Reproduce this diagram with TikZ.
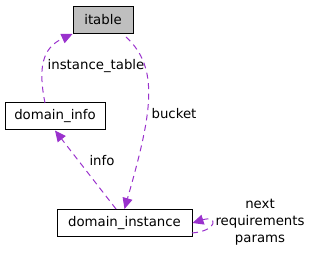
\documentclass[tikz,border=0pt]{standalone}
\usepackage{fontspec}
\setmainfont{DejaVu Sans}
\usetikzlibrary{arrows.meta}
\definecolor{edgec}{HTML}{9A32CD}
\definecolor{boxgray}{HTML}{BFBFBF}
\begin{document}
\begin{tikzpicture}[x=1pt,y=1pt,
  box/.style={draw=black,line width=1pt,minimum height=27pt,inner sep=0pt,font=\fontsize{13.3}{17}\selectfont},
  rel/.style={draw=edgec,dashed,dash pattern=on 6pt off 4.5pt,line width=1pt,-{Triangle[length=11pt,width=10pt,fill=edgec]}},
  lab/.style={font=\fontsize{13.3}{17}\selectfont,inner sep=0pt}]
\useasboundingbox (0,0) rectangle (311,253);
\node[box,fill=boxgray,minimum width=60pt] (itable) at (103,233) {itable};
\node[box,fill=white,minimum width=100pt] (dinfo) at (55,136.5) {domain\_info};
\node[box,fill=white,minimum width=135pt] (dinst) at (124.5,30) {domain\_instance};
\draw[rel] (45,150) .. controls (38,185) and (42,205) .. (itable.south west);
\node[lab] (lit) at (96,187) {instance\_table};
\draw[rel] (126,216) .. controls (160,185) and (152,140) .. (dinst.north);
\node[lab] (lbk) at (174,139) {bucket};
\draw[rel] (116,44) -- (dinfo.south);
\node[lab] (lin) at (102,92) {info};
\draw[rel] (192,20) .. controls (218,22) and (218,38) .. (dinst.east);
\node[lab,align=center] (lself) at (260,31) {next\\requirements\\params};
\end{tikzpicture}
\end{document}
